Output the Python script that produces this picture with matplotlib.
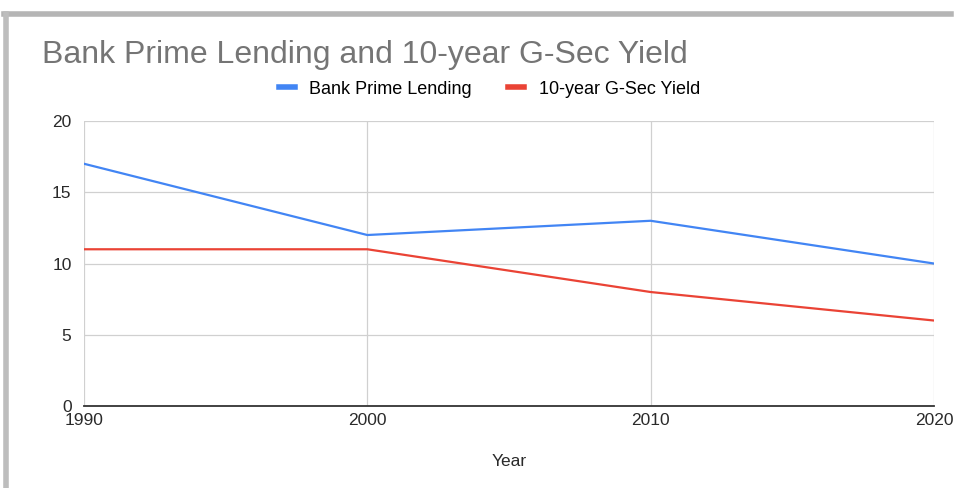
import matplotlib.pyplot as plt
from matplotlib.lines import Line2D

plt.rcParams['font.family'] = ['Liberation Sans', 'DejaVu Sans']

# data
years = [1990, 2000, 2010, 2020]
prime_lending = [17, 12, 13, 10]
gsec_yield = [11, 11, 8, 6]
y_ticks = [0, 5, 10, 15, 20]

fig = plt.figure(figsize=(9.56, 4.88), dpi=100)
fig.patch.set_facecolor('white')

# card shadow edges
fig.add_artist(Line2D([0.004, 0.995], [0.971, 0.971], color='#b5b5b5', lw=4, transform=fig.transFigure))
fig.add_artist(Line2D([0.006, 0.006], [0.0, 0.971], color='#bdbdbd', lw=4, transform=fig.transFigure))

ax = fig.add_axes([0.0879, 0.168, 0.889, 0.584])
ax.plot(years, prime_lending, color='#4285F4', lw=1.6, label='Bank Prime Lending')
ax.plot(years, gsec_yield, color='#EA4335', lw=1.6, label='10-year G-Sec Yield')

ax.set_xlim(1990, 2020)
ax.set_ylim(0, 20)
ax.set_xticks(years)
ax.set_yticks(y_ticks)
ax.grid(True, color='#d0d0d0', lw=0.9)
ax.set_axisbelow(True)
for s in ['top', 'right', 'left']:
    ax.spines[s].set_visible(False)
ax.spines['bottom'].set_color('#333333')
ax.spines['bottom'].set_linewidth(1.3)
ax.tick_params(length=0, labelsize=12.5, colors='#2a2a2a')
ax.tick_params(axis='x', pad=5)
ax.tick_params(axis='y', pad=9)
ax.set_xlabel('Year', fontsize=12.5, color='#2a2a2a', labelpad=19)

fig.text(0.044, 0.888, 'Bank Prime Lending and 10-year G-Sec Yield', fontsize=23,
         color='#757575', va='center')

handles = [Line2D([], [], color='#4285F4', lw=4), Line2D([], [], color='#EA4335', lw=4)]
fig.legend(handles, ['Bank Prime Lending', '10-year G-Sec Yield'], loc='center',
           bbox_to_anchor=(0.512, 0.817), ncol=2, frameon=False, fontsize=13,
           handlelength=0.9, handletextpad=0.8, columnspacing=2.0)

fig.savefig('out.png', dpi=100)
